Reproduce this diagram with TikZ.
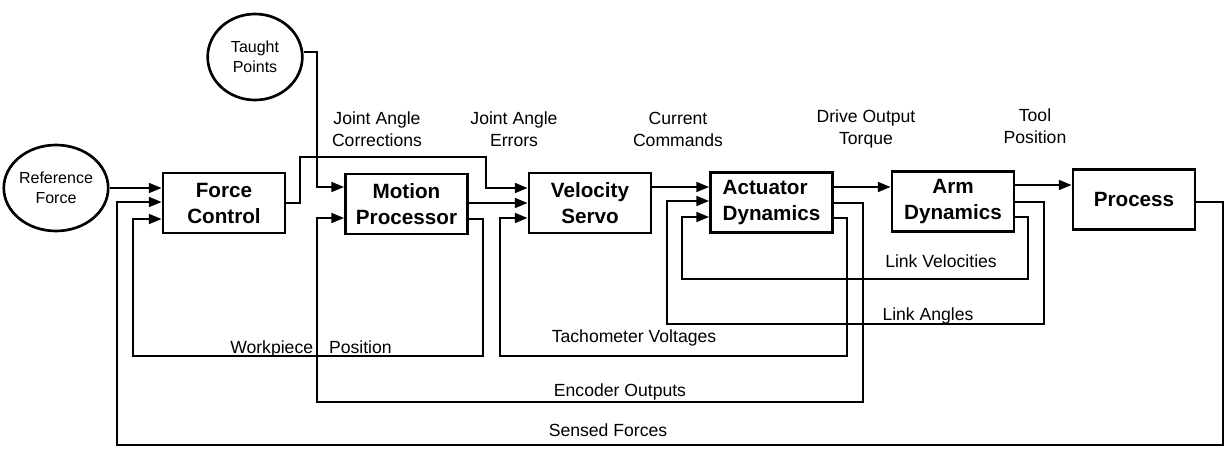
\documentclass[tikz,border=0pt]{standalone}
\usepackage{fontspec}
\setmainfont{Liberation Sans}
\usetikzlibrary{shapes.geometric,arrows.meta}
\begin{document}
\begin{tikzpicture}[x=0.75pt,y=-0.75pt,
  blk/.style={draw,line width=2.2pt,minimum width=91.5pt,minimum height=45pt,inner sep=0pt,
    font=\fontsize{15.5}{19.5}\selectfont\bfseries,align=center},
  src/.style={draw,ellipse,line width=2pt,minimum width=71pt,minimum height=64.5pt,inner sep=0pt,
    font=\fontsize{12}{15}\selectfont,align=center},
  lbl/.style={font=\fontsize{13.2}{16.5}\selectfont,align=center,inner sep=0pt},
  conn/.style={line width=1.2pt},
  arr/.style={conn,-{Triangle[length=9.5pt,width=7.5pt]}}
]
\useasboundingbox (0,0) rectangle (1226,449);
\fill[white] (0,0) rectangle (1226,449);

% sources
\node[src] (ref) at (56,188) {Reference\\Force};
\node[src] (tp) at (255,57) {Taught\\Points};

% blocks
\node[blk] (fc) at (224,203) {Force\\Control};
\node[blk] (mp) at (406.5,204) {Motion\\Processor};
\node[blk] (vs) at (590,203) {Velocity\\Servo};
\node[blk,align=left] (ad) at (771.5,202.5) {Actuator\\Dynamics};
\node[blk] (arm) at (953,201.5) {Arm\\Dynamics};
\node[blk] (proc) at (1134,199.5) {Process};

% labels
\node[lbl] (l1) at (377,129) {Joint Angle\\Corrections};
\node[lbl] (l2) at (514,129) {Joint Angle\\Errors};
\node[lbl] (l3) at (678,129) {Current\\Commands};
\node[lbl] (l4) at (866,129) {Drive Output\\Torque};
\node[lbl] (l5) at (1035,126) {Tool\\Position};
\node[lbl] (l6) at (941,261) {Link Velocities};
\node[lbl] (l7) at (928,316) {Link Angles};
\node[lbl] (l8) at (634,338) {Tachometer Voltages};
\node[lbl] (l9) at (311,349) {Workpiece\hspace{12pt}Position};
\node[lbl] (l10) at (620,392) {Encoder Outputs};
\node[lbl] (l11) at (608,430) {Sensed Forces};

% forward path
\draw[arr] (ref.east |- 0,188) -- (fc.west |- 0,188);
\draw[arr] (tp.east |- 0,52) -- (317,52) |- (mp.west |- 0,187);
\draw[arr] (fc.east |- 0,203) -- (300,203) -- (300,157) -- (486,157) |- (vs.west |- 0,188);
\draw[arr] (mp.east |- 0,203) -- (vs.west |- 0,203);
\draw[arr] (vs.east |- 0,187) -- (ad.west |- 0,187);
\draw[arr] (ad.east |- 0,187) -- (arm.west |- 0,187);
\draw[arr] (arm.east |- 0,185) -- (proc.west |- 0,185);

% feedback loops
\draw[arr] (mp.east |- 0,219) -- (483,219) -- (483,356) -- (133,356) |- (fc.west |- 0,219);
\draw[arr] (ad.east |- 0,218) -- (847,218) -- (847,356) -- (500,356) |- (vs.west |- 0,218);
\draw[arr] (ad.east |- 0,203) -- (863,203) -- (863,402) -- (317,402) |- (mp.west |- 0,218);
\draw[arr] (arm.east |- 0,217) -- (1028,217) -- (1028,279) -- (682,279) |- (ad.west |- 0,217);
\draw[arr] (arm.east |- 0,202) -- (1044,202) -- (1044,324) -- (667,324) |- (ad.west |- 0,201);
\draw[arr] (proc.east |- 0,202) -- (1223,202) -- (1223,445) -- (117,445) |- (fc.west |- 0,202);
\end{tikzpicture}
\end{document}
